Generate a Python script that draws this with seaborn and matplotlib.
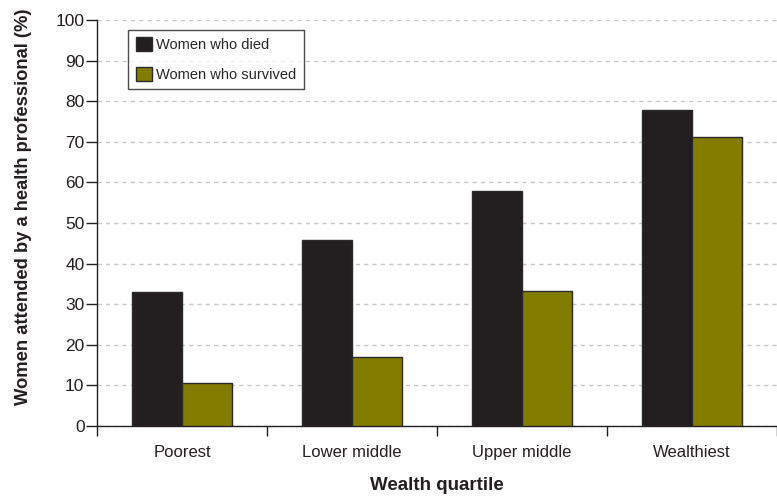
import matplotlib
matplotlib.use("Agg")
import matplotlib.pyplot as plt
import seaborn as sns
import pandas as pd
from matplotlib.ticker import FixedLocator, NullFormatter

quartiles = ["Poorest", "Lower middle", "Upper middle", "Wealthiest"]
died = [33, 45.7, 57.8, 77.8]
survived = [10.6, 17.1, 33.2, 71.2]
groups = ["Women who died", "Women who survived"]

df = pd.DataFrame({
    "quartile": quartiles * 2,
    "value": died + survived,
    "group": [groups[0]] * 4 + [groups[1]] * 4,
})

sns.set_style("white")
plt.rcParams["font.family"] = ["Liberation Sans Narrow", "Liberation Sans", "DejaVu Sans"]

fig = plt.figure(figsize=(7.77, 4.98), dpi=100)
ax = fig.add_axes([97 / 777, 1 - 426 / 498, 1 - 97 / 777, (426 - 20) / 498])

palette = {groups[0]: "#231f20", groups[1]: "#827c00"}
sns.barplot(data=df, x="quartile", y="value", hue="group", palette=palette,
            width=0.59, edgecolor="#2a2a2a", linewidth=1.0, saturation=1,
            ax=ax, zorder=3)

ax.set_xlim(-0.5, 3.5)
ax.set_ylim(0, 100)
ax.set_yticks(range(0, 101, 10))
ax.yaxis.grid(True, linestyle=(0, (3, 3)), color="#c8c8c8", linewidth=1, zorder=0)
ax.set_axisbelow(True)

# group separators on the x axis
ax.xaxis.set_minor_locator(FixedLocator([-0.5, 0.5, 1.5, 2.5, 3.5]))
ax.xaxis.set_minor_formatter(NullFormatter())
ax.tick_params(axis="x", which="major", bottom=False, length=0, pad=14,
               labelsize=12, colors="#231f20")
ax.tick_params(axis="x", which="minor", bottom=True, length=7, width=1,
               direction="out", color="#231f20")
ax.tick_params(axis="y", left=True, length=8, width=1, direction="out",
               labelsize=12.5, colors="#231f20", pad=1)

for s in ["top", "right"]:
    ax.spines[s].set_visible(False)
for s in ["left", "bottom"]:
    ax.spines[s].set_color("#231f20")
    ax.spines[s].set_linewidth(1)

ax.set_xlabel("Wealth quartile", fontsize=13.5, fontweight="bold", labelpad=12, color="#231f20")
ax.set_ylabel("Women attended by a health professional (%)", fontsize=13.2,
              fontweight="bold", color="#231f20")
ax.yaxis.set_label_coords(-0.095, 0.54)

leg = ax.legend(loc="upper left", bbox_to_anchor=(0.046, 0.975), fontsize=10.5,
                frameon=True, fancybox=False, edgecolor="#231f20",
                handlelength=1.1, handleheight=1.1, handletextpad=0.3,
                labelspacing=1.0, borderpad=0.5, borderaxespad=0)
leg.get_frame().set_linewidth(1)

fig.savefig("out.png", dpi=100)
